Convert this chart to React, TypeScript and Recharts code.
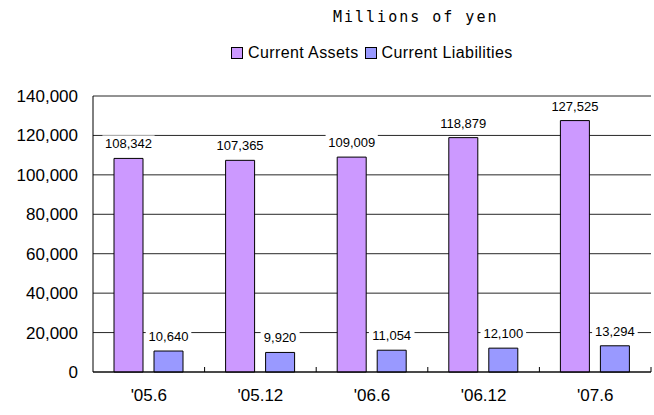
import React from "react";
import {
  BarChart,
  Bar,
  XAxis,
  YAxis,
  CartesianGrid,
  LabelList,
} from "recharts";

const periods = ["'05.6", "'05.12", "'06.6", "'06.12", "'07.6"];
const currentAssets = [108342, 107365, 109009, 118879, 127525];
const currentLiabilities = [10640, 9920, 11054, 12100, 13294];
const yTicks = [0, 20000, 40000, 60000, 80000, 100000, 120000, 140000];

const data = periods.map((p, i) => ({
  period: p,
  assets: currentAssets[i],
  liabilities: currentLiabilities[i],
}));

const ASSET_COLOR = "#CC99FF";
const LIAB_COLOR = "#9999FF";
const FONT = "'Liberation Sans', Arial, sans-serif";

const fmt = (v: number) => v.toLocaleString("en-US");

const ValueLabel = (props: any) => {
  const { x, y, width, value } = props;
  const text = fmt(Number(value));
  const cx = Number(x) + Number(width) / 2;
  const w = text.length * 6.6 + 6;
  return (
    <g>
      <rect x={cx - w / 2} y={Number(y) - 23} width={w} height={16} fill="#fff" />
      <text
        x={cx}
        y={Number(y) - 10}
        textAnchor="middle"
        fontSize={13}
        fontFamily={FONT}
        fill="#000"
      >
        {text}
      </text>
    </g>
  );
};

const XTick = (props: any) => {
  const { x, y, payload } = props;
  const half = payload && payload.offset ? payload.offset : 55.8;
  return (
    <g>
      <line x1={x + half} x2={x + half} y1={y - 8} y2={y - 13} stroke="#000" />
      <text
        x={x}
        y={y + 21}
        textAnchor="middle"
        fontSize={17}
        fontFamily={FONT}
        fill="#000"
      >
        {payload.value}
      </text>
    </g>
  );
};

const legendItems = [
  { name: "Current Assets", color: ASSET_COLOR },
  { name: "Current Liabilities", color: LIAB_COLOR },
];

export default function App() {
  return (
    <div style={{ position: "absolute", left: 0, top: 0, width: 654, height: 415, background: "#fff" }}>
      <div
        style={{
          position: "absolute",
          left: 333,
          top: 8,
          fontFamily: "'DejaVu Sans Mono', 'Liberation Mono', monospace",
          fontSize: 15,
          letterSpacing: 2,
          color: "#000",
          whiteSpace: "nowrap",
        }}
      >
        Millions of yen
      </div>
      <div
        style={{
          position: "absolute",
          left: 231,
          top: 44,
          display: "flex",
          alignItems: "center",
          fontFamily: FONT,
          fontSize: 16,
          letterSpacing: 0.4,
          color: "#000",
          whiteSpace: "nowrap",
        }}
      >
        {legendItems.map((it) => (
          <span
            key={it.name}
            style={{ display: "inline-flex", alignItems: "center", marginRight: 6 }}
          >
            <span
              style={{
                display: "inline-block",
                width: 10,
                height: 10,
                background: it.color,
                border: "1px solid #000",
                marginRight: 5,
              }}
            />
            {it.name}
          </span>
        ))}
      </div>
      <BarChart
        width={654}
        height={415}
        data={data}
        margin={{ top: 96, right: 3, left: 0, bottom: 0 }}
        barCategoryGap={21}
        barGap={11}
      >
        <CartesianGrid vertical={false} stroke="#000" strokeOpacity={0.85} />
        <XAxis
          dataKey="period"
          tickLine={false}
          axisLine={{ stroke: "#000" }}
          height={43}
          tick={<XTick />}
          interval={0}
        />
        <YAxis
          width={93}
          domain={[0, 140000]}
          ticks={yTicks}
          tickFormatter={fmt}
          tickLine={false}
          tickSize={0}
          tickMargin={15}
          axisLine={{ stroke: "#000" }}
          tick={{ fontSize: 17, fontFamily: FONT, fill: "#000" }}
        />
        <Bar dataKey="assets" name="Current Assets" fill={ASSET_COLOR} stroke="#000" isAnimationActive={false}>
          <LabelList dataKey="assets" content={<ValueLabel />} />
        </Bar>
        <Bar dataKey="liabilities" name="Current Liabilities" fill={LIAB_COLOR} stroke="#000" isAnimationActive={false}>
          <LabelList dataKey="liabilities" content={<ValueLabel />} />
        </Bar>
      </BarChart>
    </div>
  );
}
